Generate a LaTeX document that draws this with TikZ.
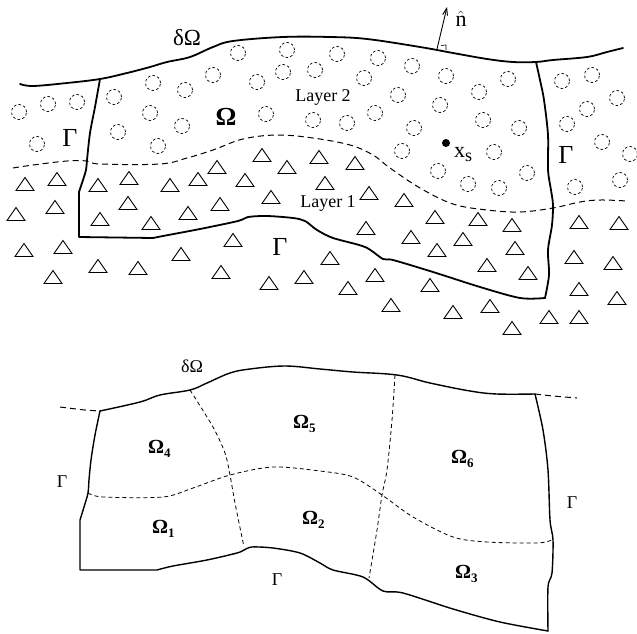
\documentclass[tikz,border=0pt]{standalone}
\usepackage{fontspec}
\setmainfont{Liberation Serif}
\usetikzlibrary{arrows.meta}
\newcommand\subdom[1]{\textbf{Ω}\raisebox{-4pt}{\fontsize{13}{13}\selectfont\bfseries #1}}
\tikzset{
  bnd/.style={line width=1.8pt, line join=round, line cap=round},
  subbnd/.style={line width=1.4pt, line join=round, line cap=round},
  iface/.style={line width=1pt, dash pattern=on 6pt off 4pt},
  part/.style={line width=0.8pt, dash pattern=on 4pt off 3pt},
  incl/.style={line width=0.7pt, dash pattern=on 2.6pt off 2.2pt},
  grain/.style={line width=0.9pt, line join=miter},
  lbl/.style={inner sep=0pt, outer sep=0pt},
}
\begin{document}
\begin{tikzpicture}[x=1pt,y=-1pt]
\useasboundingbox (0,0) rectangle (637,634);

% ---------- upper sketch: layered medium ----------
% circular inclusions (layer 2)
\foreach \x/\y in {19/112,48/104,77/102,37/144,
  114/97,153/83,185/90,150/113,118/132,182/126,158/146,213/75,
  238/53,287/50,337/54,378/58,412/66,257/82,283/72,315/70,364/78,
  398/95,266/114,313/120,347/123,375/113,414/128,402/151,
  446/76,508/79,479/92,440/105,483/120,519/128,494/152,438/171,
  468/184,499/188,527/173,
  562/81,592/75,617/98,587/109,567/124,602/142,630/154,620/180,575/187}
  \draw[incl] (\x,\y) circle[radius=7.5pt];

% triangular grains (layer 1)
\foreach \x/\y in {25/184,57/179,98/185,129/178,170/185,198/179,217/167,
  245/180,262/155,287/167,319/157,355/163,325/183,369/193,404/200,
  16/214,55/207,100/219,128/203,151/223,188/213,220/204,271/197,
  24/250,63/247,98/266,138/268,53/277,181/254,233/240,221/272,
  269/283,304/277,366/228,411/237,330/258,348/288,375/275,391/305,
  435/217,478/219,512/225,463/239,437/250,515/248,487/265,528/273,
  430/285,453/312,490/306,549/317,579/317,512/328,579/222,619/223,
  574/257,613/263,579/289,617/298}
  \draw[grain] (\x-9,\y+6.5) -- (\x+9,\y+6.5) -- (\x,\y-6.5) -- cycle;

% interface between the two layers
\draw[iface] plot[smooth, tension=0.6] coordinates {
  (13,168) (33,165) (67,161) (87,161) (100,164) (160,164) (187,158)
  (213,150) (243,139) (277,135) (313,138) (350,145) (373,155)
  (390,168) (420,188) (453,204) (487,210) (520,212) (553,208)
  (580,202) (600,200) (627,201)};

% free surface
\draw[bnd] plot[smooth, tension=0.6] coordinates {
  (20,84) (33,86) (67,83) (100,79) (127,73) (150,67) (167,62) (190,57)
  (213,47) (233,41) (283,37) (330,37) (367,39) (420,47) (453,53)
  (487,59) (513,62) (536,62) (553,60) (587,57) (607,52) (623,48)};

% truncation boundary of the computational domain
\draw[bnd] plot[smooth, tension=0.5] coordinates {
  (100,79) (95,107) (90,133) (87,160) (86,170) (82,183) (79,192)}
  -- (79,237) -- (153,238)
  plot[smooth, tension=0.5] coordinates {
  (153,238) (163,236) (200,229) (238,221) (248,217) (267,216) (293,218)
  (305,221) (317,230) (333,238) (365,247) (383,259) (393,260) (433,272)
  (480,287) (520,298) (545,298)};
\draw[bnd] plot[smooth, tension=0.5] coordinates {
  (536,62) (540,80) (544,100) (548,135) (548,170) (551,190) (553,205)
  (552,225) (548,250) (549,275) (545,298)};

% outward normal
\coordinate (nfoot) at (437,49);
\coordinate (ntip) at (447,7);
\draw[line width=0.9pt, -{Straight Barb[length=7pt,width=5pt]}] (nfoot) -- (ntip);
\draw[line width=0.6pt] (441,45.5) -- (446,45) -- (446,50);
\node[lbl, font=\fontsize{22}{22}\selectfont] (nlab) at (461,19) {$\hat{\mathrm{n}}$};

% source point
\fill (446,143) circle[radius=4pt];
\node[lbl, anchor=base west, font=\fontsize{22}{22}\selectfont] (xs) at (454,157) {x};
\node[lbl, anchor=base west, font=\fontsize{18}{18}\selectfont] (xsub) at (xs.base east) [yshift=-4pt] {s};

% labels
\node[lbl, font=\fontsize{23}{23}\selectfont] (dOmTop) at (187,38) {δΩ};
\node[lbl, font=\fontsize{26}{26}\selectfont\bfseries] (OmTop) at (226,117) {Ω};
\node[lbl, font=\fontsize{18}{18}\selectfont] (lay2) at (323,97) {Layer 2};
\node[lbl, font=\fontsize{18}{18}\selectfont] (lay1) at (328,203) {Layer 1};
\node[lbl, font=\fontsize{26}{26}\selectfont] (GamL) at (70,138) {Γ};
\node[lbl, font=\fontsize{26}{26}\selectfont] (GamR) at (566,155) {Γ};
\node[lbl, font=\fontsize{26}{26}\selectfont] (GamB) at (280,247) {Γ};

% ---------- lower sketch: partition into subdomains ----------
\draw[iface] plot[smooth] coordinates {(60,407) (85,410) (100,411)};
\draw[iface] plot[smooth] coordinates {(535,394) (553,396) (577,398)};

\draw[subbnd] plot[smooth, tension=0.6] coordinates {
  (100,411) (140,402) (160,395) (190,390) (207,383) (230,373) (250,369)
  (285,366) (320,369) (353,372) (397,375) (430,383) (470,391) (497,394)
  (535,394)};
\draw[subbnd] plot[smooth, tension=0.5] coordinates {
  (100,411) (95,435) (91,460) (89,480) (88,493) (84,507) (80,520)}
  -- (80,570) -- (157,570)
  plot[smooth, tension=0.5] coordinates {
  (157,570) (173,566) (207,560) (237,553) (244,550) (252,547) (273,548)
  (300,553) (320,563) (333,570) (363,577) (383,591) (403,593) (453,609)
  (500,622) (548,631)};
\draw[subbnd] plot[smooth, tension=0.5] coordinates {
  (535,394) (543,430) (548,470) (550,520) (553,540) (552,573) (548,587)
  (548,631)};

% internal partition lines
\draw[part] plot[smooth] coordinates {
  (190,390) (213,427) (225,453) (230,475) (235,503) (244,547)};
\draw[part] plot[smooth] coordinates {
  (395,375) (392,420) (387,470) (382,495) (377,530) (369,578)};
\draw[part] plot[smooth] coordinates {
  (88,493) (103,497) (163,497) (193,488) (230,475) (273,467) (320,471)
  (353,477) (382,495) (413,517) (453,537) (487,542) (537,543) (552,540)};

% subdomain labels
\node[lbl, anchor=base west, font=\fontsize{20}{20}\selectfont] (om4) at (148,453) {\subdom{4}};
\node[lbl, anchor=base west, font=\fontsize{20}{20}\selectfont] (om5) at (293,428) {\subdom{5}};
\node[lbl, anchor=base west, font=\fontsize{20}{20}\selectfont] (om1) at (152,533) {\subdom{1}};
\node[lbl, anchor=base west, font=\fontsize{20}{20}\selectfont] (om2) at (302,524) {\subdom{2}};
\node[lbl, anchor=base west, font=\fontsize{20}{20}\selectfont] (om6) at (451,463) {\subdom{6}};
\node[lbl, anchor=base west, font=\fontsize{20}{20}\selectfont] (om3) at (455,578) {\subdom{3}};
\node[lbl, font=\fontsize{18}{18}\selectfont] (dOmBot) at (192,366) {δΩ};
\node[lbl, font=\fontsize{18}{18}\selectfont] (gl) at (62,482) {Γ};
\node[lbl, font=\fontsize{18}{18}\selectfont] (gb) at (277,580) {Γ};
\node[lbl, font=\fontsize{18}{18}\selectfont] (gr) at (572,503) {Γ};
\end{tikzpicture}
\end{document}
